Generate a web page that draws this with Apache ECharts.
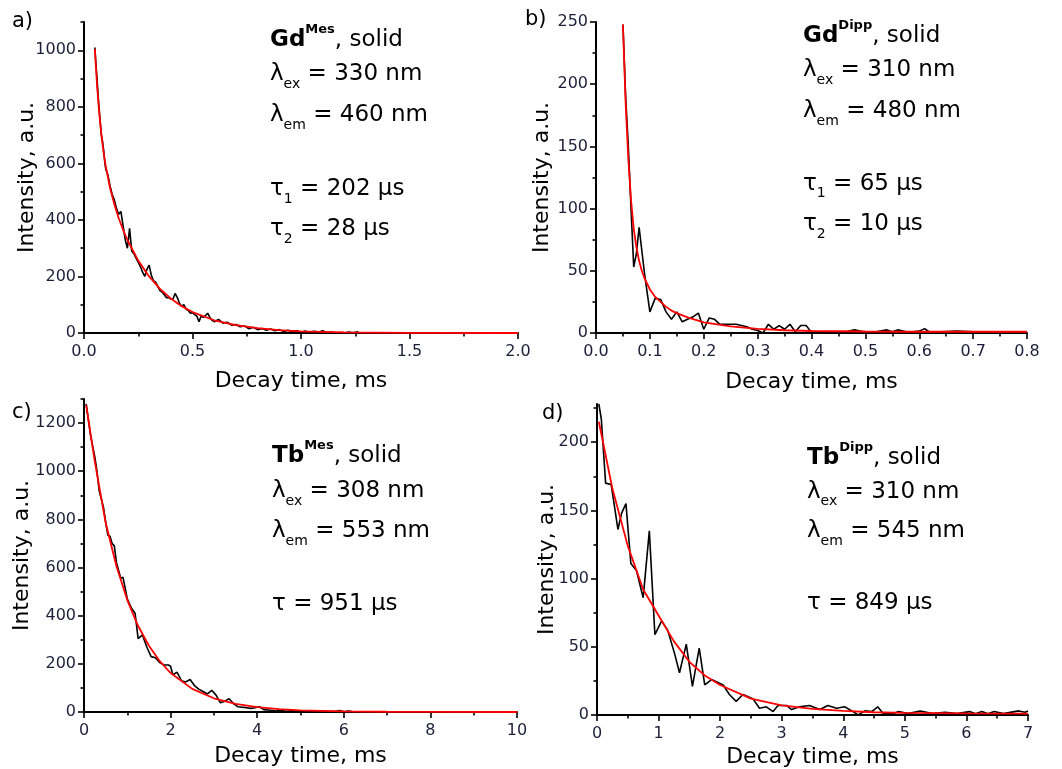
<!DOCTYPE html>
<html><head><meta charset="utf-8">
<script src="https://cdn.jsdelivr.net/npm/echarts@6/dist/echarts.min.js"></script>
<style>html,body{margin:0;padding:0;background:#fff}#c{width:1062px;height:769px}</style>
</head><body><div id="c"></div>
<script>
// ---------- DATA ----------
const panelLetters = ['a)', 'b)', 'c)', 'd)'];
const xAxisTitle = 'Decay time, ms';
const yAxisTitle = 'Intensity, a.u.';

// a) Gd^Mes decay (black) and biexponential fit (red)
const gdMesData = [[0.05,1010],[0.055,950],[0.06,900],[0.065,840],[0.07,790],[0.075,745],[0.08,700],[0.085,680],[0.09,650],[0.095,610],[0.10,580],[0.11,560],[0.12,520],[0.13,490],[0.14,470],[0.15,440],[0.16,420],[0.17,430],[0.18,380],[0.19,330],[0.20,300],[0.21,370],[0.22,290],[0.23,280],[0.24,265],[0.25,250],[0.26,235],[0.27,215],[0.28,200],[0.29,225],[0.30,240],[0.31,205],[0.32,185],[0.33,180],[0.34,165],[0.35,150],[0.36,145],[0.37,135],[0.38,125],[0.39,125],[0.40,120],[0.41,120],[0.42,140],[0.43,125],[0.44,105],[0.45,95],[0.46,100],[0.47,85],[0.48,80],[0.49,70],[0.50,72],[0.51,65],[0.52,60],[0.53,40],[0.54,60],[0.55,55],[0.56,62],[0.57,70],[0.58,55],[0.59,45],[0.60,40],[0.62,48],[0.64,35],[0.66,38],[0.68,28],[0.70,30],[0.72,22],[0.74,25],[0.76,15],[0.78,20],[0.80,12],[0.82,16],[0.84,10],[0.86,14],[0.88,8],[0.90,12],[0.92,5],[0.94,10],[0.96,4],[0.98,8],[1.00,3],[1.02,7],[1.04,2],[1.06,6],[1.08,3],[1.10,8],[1.12,1],[1.14,3],[1.16,0],[1.18,2],[1.20,0],[1.22,3],[1.24,1],[1.26,4],[1.27,0]];
const gdMesFit = [[0.05,1005],[0.06,877],[0.07,779],[0.08,702],[0.09,641],[0.10,591],[0.12,513],[0.14,455],[0.16,406],[0.18,365],[0.20,329],[0.25,256],[0.30,200],[0.35,156],[0.40,122],[0.45,95],[0.50,74],[0.60,45],[0.70,28],[0.80,17],[0.90,10],[1.00,6],[1.20,2],[1.50,0.5],[2.00,0]];

// b) Gd^Dipp
const gdDippData = [[0.05,248],[0.055,190],[0.06,150],[0.065,100],[0.07,53],[0.075,64],[0.08,85],[0.09,48],[0.10,17],[0.11,28],[0.12,27],[0.13,17],[0.14,11],[0.15,17],[0.16,9],[0.17,11],[0.18,13],[0.19,16],[0.20,3],[0.21,12],[0.22,11],[0.23,7],[0.24,7],[0.25,7],[0.26,7],[0.27,6],[0.28,5],[0.29,3],[0.30,2],[0.31,0],[0.32,7],[0.33,3],[0.34,6],[0.35,3],[0.36,7],[0.37,1],[0.38,6],[0.39,6],[0.40,0.5],[0.42,1],[0.44,1],[0.46,0.5],[0.48,2.5],[0.50,0.5],[0.52,1],[0.54,2.5],[0.55,1],[0.56,2.5],[0.58,0.5],[0.60,1.5],[0.61,3.5],[0.62,0.5],[0.64,1],[0.67,1.5],[0.70,1],[0.75,1],[0.80,1]];
const gdDippFit = [[0.05,248],[0.055,185],[0.06,140],[0.065,107],[0.07,84],[0.075,69],[0.08,58],[0.085,50],[0.09,44],[0.10,35],[0.11,29],[0.12,25],[0.13,21],[0.14,18],[0.15,16],[0.17,12.5],[0.20,8.5],[0.25,5.3],[0.30,3.3],[0.35,2.2],[0.40,1.6],[0.50,1.2],[0.60,1.0],[0.80,1.0]];

// c) Tb^Mes
const tbMesData = [[0.05,1280],[0.15,1150],[0.25,1060],[0.3,1000],[0.35,920],[0.45,850],[0.5,790],[0.55,735],[0.6,730],[0.65,700],[0.7,690],[0.75,620],[0.85,555],[0.9,560],[1.0,470],[1.1,430],[1.18,410],[1.25,305],[1.35,320],[1.45,270],[1.55,230],[1.65,225],[1.75,205],[1.85,195],[1.95,195],[2.0,190],[2.05,155],[2.15,165],[2.25,130],[2.35,125],[2.45,135],[2.55,110],[2.65,95],[2.75,85],[2.85,75],[2.95,90],[3.05,70],[3.15,38],[3.25,45],[3.35,55],[3.45,35],[3.55,22],[3.65,20],[3.75,18],[3.85,15],[3.95,18],[4.05,22],[4.15,10],[4.25,8],[4.35,6],[4.45,4],[4.55,8],[4.65,3],[4.8,5],[5.0,2],[5.2,4],[5.4,1],[5.6,3],[5.8,2],[5.9,6],[6.0,1],[6.1,4],[6.2,2]];
const tbMesFit = [[0.05,1275],[0.25,1040],[0.5,786],[0.75,605],[1.0,465],[1.25,357],[1.5,275],[1.75,211],[2.0,162],[2.5,96],[3.0,57],[3.5,34],[4.0,20],[4.5,12],[5.0,7],[6.0,2.5],[7.0,1],[8.0,0.5],[10.0,0]];

// d) Tb^Dipp
const tbDippData = [[0.03,228],[0.07,217],[0.14,170],[0.23,169],[0.34,136],[0.40,148],[0.47,155],[0.55,111],[0.64,106],[0.75,86],[0.85,135],[0.94,59],[1.05,69],[1.15,62],[1.26,45],[1.34,31],[1.45,52],[1.55,21],[1.66,49],[1.75,22],[1.86,26],[2.05,22],[2.15,15],[2.26,10],[2.37,15],[2.53,12],[2.64,5],[2.75,6],[2.86,2.5],[2.94,7],[3.08,7],[3.16,4],[3.29,6],[3.45,7],[3.62,4],[3.75,7],[3.89,5],[4.02,6],[4.16,2.5],[4.24,0],[4.35,3],[4.46,2.5],[4.56,6],[4.65,1],[4.8,1],[4.9,2.5],[5.05,1],[5.25,3],[5.45,1],[5.65,2],[5.85,1],[6.05,2.5],[6.15,1],[6.25,2.5],[6.35,1],[6.45,2.5],[6.6,1],[6.85,3],[6.95,2],[7.0,3]];
const tbDippFit = [[0.03,215],[0.25,166],[0.5,124],[0.75,92],[1.0,73],[1.25,54],[1.5,39],[1.75,29],[2.0,22],[2.5,12],[3.0,7],[3.5,4.5],[4.0,3],[4.5,2],[5.0,1.5],[6.0,1.2],[7.0,1]];

// axis ranges / tick steps
const xMax = [2, 0.8, 10, 7];
const xMajor = [0.5, 0.1, 2, 1];
const xMinor = [0.25, 0.05, 1, 0.5];
const xDecimals = [1, 1, 0, 0];
const yMax = [1100, 250, 1300, 228];
const yMajor = [200, 50, 200, 50];
const yMinor = [100, 25, 100, 25];

// annotation texts
const titleMain = ['Gd', 'Gd', 'Tb', 'Tb'];
const titleSup = ['Mes', 'Dipp', 'Mes', 'Dipp'];
const lambdaEx = ['330 nm', '310 nm', '308 nm', '310 nm'];
const lambdaEm = ['460 nm', '480 nm', '553 nm', '545 nm'];
const tauLines = [
  [['1', '202 μs'], ['2', '28 μs']],
  [['1', '65 μs'], ['2', '10 μs']],
  [['', '951 μs']],
  [['', '849 μs']]
];

// ---------- LAYOUT ----------
const F = "'DejaVu Sans', Verdana, sans-serif";
const grids = [
  {left: 84, top: 22, width: 434, height: 311},
  {left: 596, top: 22, width: 431, height: 311},
  {left: 84, top: 399, width: 433, height: 313},
  {left: 597, top: 404, width: 431, height: 311}
];
const yNameGap = [46, 43, 51, 39];
const xNameGap = [37, 38, 33, 31];
const seriesData = [gdMesData, gdDippData, tbMesData, tbDippData];
const seriesFit = [gdMesFit, gdDippFit, tbMesFit, tbDippFit];

function steps(step, max, skipEvery) {
  const out = [];
  const n = Math.floor(max / step + 1e-9);
  for (let i = 0; i <= n; i++) {
    if (skipEvery && i % skipEvery === 0) continue;
    out.push(+(i * step).toFixed(6));
  }
  return out;
}

const labelColor = '#1e1e3a';
const xAxes = [], yAxes = [], series = [];
for (let i = 0; i < 4; i++) {
  const majX = steps(xMajor[i], xMax[i]);
  const minX = steps(xMinor[i], xMax[i], 2);
  const majY = steps(yMajor[i], yMax[i]);
  const minY = steps(yMinor[i], yMax[i], 2);
  const dec = xDecimals[i];
  xAxes.push({
    gridIndex: i, type: 'value', min: 0, max: xMax[i], interval: xMajor[i], position: 'bottom',
    axisLine: {show: true, onZero: false, lineStyle: {color: '#000', width: 2}},
    axisTick: {show: true, inside: false, length: 6, customValues: majX, lineStyle: {color: '#000', width: 1.6}},
    axisLabel: {show: true, customValues: majX, margin: 11, color: labelColor, fontSize: 16, fontFamily: F,
      formatter: v => Number(v).toFixed(dec)},
    splitLine: {show: false},
    name: xAxisTitle, nameLocation: 'middle', nameGap: xNameGap[i], nameMoveOverlap: false,
    nameTextStyle: {color: '#000', fontSize: 22, fontFamily: F, verticalAlign: 'top'}
  });
  xAxes.push({
    gridIndex: i, type: 'value', min: 0, max: xMax[i], position: 'bottom',
    axisLine: {show: false, onZero: false},
    axisTick: {show: true, inside: false, length: 3.5, customValues: minX, lineStyle: {color: '#000', width: 1.6}},
    axisLabel: {show: false}, splitLine: {show: false}
  });
  yAxes.push({
    gridIndex: i, type: 'value', min: 0, max: yMax[i], interval: yMajor[i], position: 'left',
    axisLine: {show: true, onZero: false, lineStyle: {color: '#000', width: 2}},
    axisTick: {show: true, inside: false, length: 6, customValues: majY, lineStyle: {color: '#000', width: 1.6}},
    axisLabel: {show: true, customValues: majY, margin: 8, color: labelColor, fontSize: 16, fontFamily: F,
      formatter: v => String(Math.round(v))},
    splitLine: {show: false},
    name: yAxisTitle, nameLocation: 'middle', nameGap: yNameGap[i], nameMoveOverlap: false,
    nameTextStyle: {color: '#000', fontSize: 22, fontFamily: F}
  });
  yAxes.push({
    gridIndex: i, type: 'value', min: 0, max: yMax[i], position: 'left',
    axisLine: {show: false, onZero: false},
    axisTick: {show: true, inside: false, length: 3.5, customValues: minY, lineStyle: {color: '#000', width: 1.6}},
    axisLabel: {show: false}, splitLine: {show: false}
  });
  series.push({
    type: 'line', xAxisIndex: 2 * i, yAxisIndex: 2 * i, data: seriesData[i],
    showSymbol: false, symbol: 'none', lineStyle: {color: '#000', width: 1.6}, z: 2, silent: true, animation: false
  });
  series.push({
    type: 'line', xAxisIndex: 2 * i, yAxisIndex: 2 * i, data: seriesFit[i],
    showSymbol: false, symbol: 'none', lineStyle: {color: '#ff0000', width: 1.8}, z: 3, silent: true, animation: false
  });
}

// annotations
const rich = {
  m: {fontSize: 23, fontFamily: F, color: '#000', lineHeight: 34},
  b: {fontSize: 23, fontFamily: F, color: '#000', fontWeight: 'bold', lineHeight: 34},
  sup: {fontSize: 13, fontFamily: F, color: '#000', fontWeight: 'bold', lineHeight: 13, verticalAlign: 'top'},
  sub: {fontSize: 14, fontFamily: F, color: '#000', lineHeight: 14, verticalAlign: 'bottom'}
};
const annoX = [270, 803, 272, 807];
const annoBase = [
  [46.7, 80, 120.7, 195, 235],
  [42.7, 76, 116.7, 189.3, 230],
  [462.7, 496.7, 536.7, 610],
  [465, 497.3, 536.7, 609]
];
const letterPos = [[12, 24], [525, 22], [12, 415], [542, 416]];
const graphics = [];
function addLine(x, base, text, isTitle) {
  const off = isTitle ? 24 : 17;
  graphics.push({type: 'text', left: x, top: base - off, silent: true,
    style: {text: text, rich: rich, x: 0, y: 0, fill: '#000'}});
}
for (let i = 0; i < 4; i++) {
  const x = annoX[i], b = annoBase[i];
  addLine(x, b[0], '{b|' + titleMain[i] + '}{sup|' + titleSup[i] + '}{m|, solid}', true);
  addLine(x, b[1], '{m|λ}{sub|ex}{m| = ' + lambdaEx[i] + '}');
  addLine(x, b[2], '{m|λ}{sub|em}{m| = ' + lambdaEm[i] + '}');
  tauLines[i].forEach((t, k) => {
    const s = t[0] ? '{m|τ}{sub|' + t[0] + '}{m| = ' + t[1] + '}' : '{m|τ = ' + t[1] + '}';
    addLine(x, b[3 + k], s);
  });
  graphics.push({type: 'text', left: letterPos[i][0], top: letterPos[i][1] - 13, silent: true,
    style: {text: panelLetters[i], font: '21px ' + F, fill: '#000'}});
}

const chart = echarts.init(document.getElementById('c'), null, {renderer: 'canvas'});
chart.setOption({
  animation: false,
  backgroundColor: '#fff',
  grid: grids.map(g => Object.assign({containLabel: false}, g)),
  xAxis: xAxes, yAxis: yAxes, series: series, graphic: graphics
});
</script></body></html>
